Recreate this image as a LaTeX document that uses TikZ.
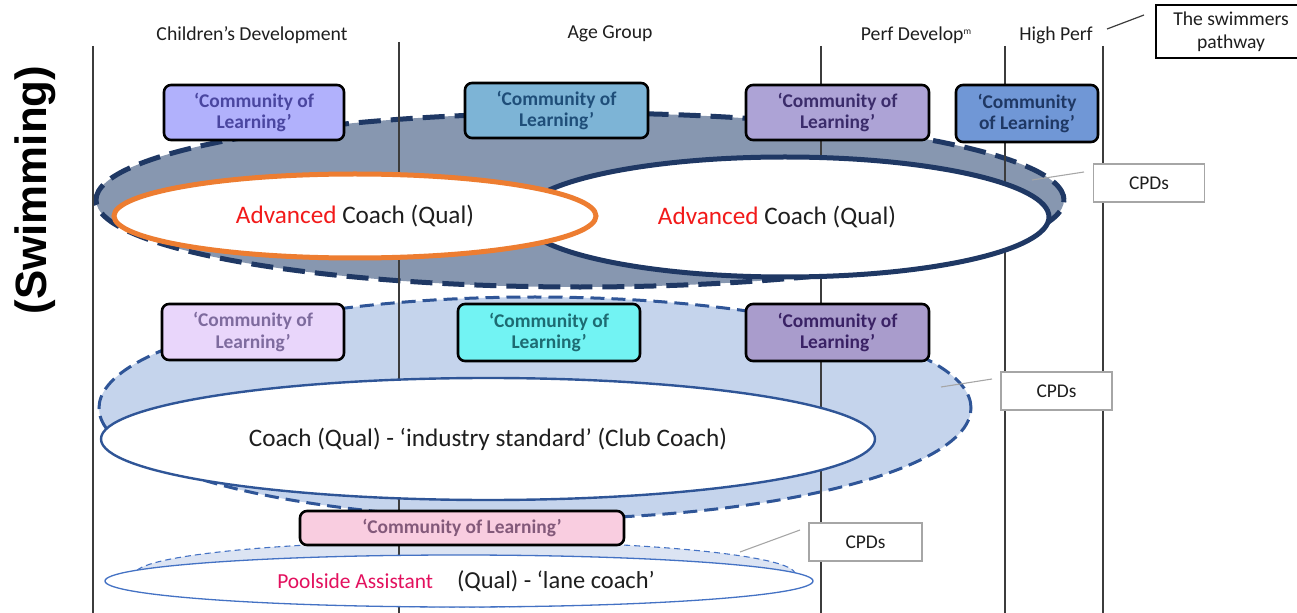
\documentclass[tikz,border=0pt]{standalone}
\usepackage{fontspec}
\setmainfont{Carlito}
\newfontfamily\swimfont{Liberation Sans}
\usetikzlibrary{shapes.geometric}

% palette
\definecolor{navy}{HTML}{1F3864}
\definecolor{slatefill}{HTML}{8797B0}
\definecolor{orangering}{HTML}{ED7D31}
\definecolor{midblue}{HTML}{2F5597}
\definecolor{paleblue}{HTML}{C5D4EC}
\definecolor{paleblueii}{HTML}{DCE4F3}
\definecolor{ringblue}{HTML}{4472C4}
\definecolor{inkdark}{HTML}{1E1E1E}
\definecolor{divgray}{HTML}{3C3C3C}
\definecolor{cpdgray}{HTML}{A6A6A6}
\definecolor{poolred}{HTML}{E3105E}
\definecolor{advred}{HTML}{F21A1A}
% community box fills and inks
\definecolor{cAfill}{HTML}{B1B1FC}\definecolor{cAtext}{HTML}{4A46A0}
\definecolor{cBfill}{HTML}{7DB4D6}\definecolor{cBtext}{HTML}{1F4E79}
\definecolor{cCfill}{HTML}{ADA3D6}\definecolor{cCtext}{HTML}{3B2C6B}
\definecolor{cDfill}{HTML}{7097D6}\definecolor{cDtext}{HTML}{1F3864}
\definecolor{cEfill}{HTML}{E9D6FB}\definecolor{cEtext}{HTML}{7E6B9E}
\definecolor{cFfill}{HTML}{72F3F3}\definecolor{cFtext}{HTML}{1D6B72}
\definecolor{cGfill}{HTML}{A99CCC}\definecolor{cGtext}{HTML}{3A2265}
\definecolor{cHfill}{HTML}{F9CDE0}\definecolor{cHtext}{HTML}{83597A}

\begin{document}
\begin{tikzpicture}[x=1bp,y=-1bp,
  ring/.style={ellipse, inner sep=0pt, text=inkdark},
  colbox/.style={draw=black, line width=2.6bp, rounded corners=7bp, inner sep=0pt,
    align=center, font=\fontsize{19.5}{22}\selectfont\bfseries},
  cpd/.style={draw=cpdgray, line width=1.3bp, fill=white, minimum width=111bp,
    minimum height=38bp, inner sep=0pt, text=inkdark, font=\fontsize{19.5}{22}\selectfont},
  hdr/.style={inner sep=0pt, text=inkdark, font=\fontsize{19.8}{23}\selectfont},
  divider/.style={draw=divgray, line width=1.5bp},
  leader/.style={draw=cpdgray, line width=1.1bp}
]
\useasboundingbox (0,0) rectangle (1297,613);

% background rings (filled, dashed)
\node[ring, fill=slatefill, draw=navy, line width=5bp, dash pattern=on 22bp off 10bp,
  minimum width=968bp, minimum height=174bp] (advring) at (580,200) {};
\node[ring, fill=paleblue, draw=midblue, line width=3bp, dash pattern=on 14bp off 7bp,
  minimum width=872bp, minimum height=222bp] (coachring) at (535,408) {};
\node[ring, fill=paleblueii, draw=ringblue, line width=1.1bp, dash pattern=on 6bp off 4bp,
  minimum width=660bp, minimum height=66bp] (poolring) at (465,574) {};

% pathway dividers
\coordinate (d1t) at (93,46);   \coordinate (d1b) at (93,613);
\coordinate (d2t) at (399,42);  \coordinate (d2b) at (399,613);
\coordinate (d3t) at (821,46);  \coordinate (d3b) at (821,613);
\coordinate (d4t) at (1005,46); \coordinate (d4b) at (1005,613);
\coordinate (d5t) at (1103,46); \coordinate (d5b) at (1103,613);
\foreach \d in {1,...,5}{\draw[divider] (d\d t) -- (d\d b);}

% qualification rings
\node[ring, fill=white, draw=navy, line width=5bp,
  minimum width=528bp, minimum height=120bp,
  font=\fontsize{25.3}{29}\selectfont] (advB) at (785,217)
  {\hspace*{-16bp}\textcolor{advred}{Advanced} Coach (Qual)};
\node[ring, fill=white, draw=orangering, line width=5bp,
  minimum width=482bp, minimum height=84bp,
  font=\fontsize{25.3}{29}\selectfont] (advA) at (355,216)
  {\textcolor{advred}{Advanced} Coach (Qual)};
\node[ring, fill=white, draw=midblue, line width=2.4bp,
  minimum width=774bp, minimum height=122bp,
  font=\fontsize{25.3}{29}\selectfont] (coach) at (488,439)
  {Coach (Qual) - ‘industry standard’ (Club Coach)};
\node[ring, fill=white, draw=ringblue, line width=1.3bp,
  minimum width=708bp, minimum height=52bp] (pool) at (459,581)
  {\hspace*{14bp}{\fontsize{21.5}{26}\selectfont\textcolor{poolred}{Poolside Assistant}}\hspace{24bp}{\fontsize{24.5}{28}\selectfont(Qual) - ‘lane coach’}};

% community of learning boxes
\node[colbox, fill=cAfill, text=cAtext, minimum width=180bp, minimum height=55bp] (colA) at (254,112.5) {‘Community of\\Learning’};
\node[colbox, fill=cBfill, text=cBtext, minimum width=183bp, minimum height=55bp] (colB) at (556.5,110.5) {‘Community of\\Learning’};
\node[colbox, fill=cCfill, text=cCtext, minimum width=183bp, minimum height=55bp] (colC) at (837.5,112.5) {‘Community of\\Learning’};
\node[colbox, fill=cDfill, text=cDtext, minimum width=142bp, minimum height=57bp] (colD) at (1027,113.5) {‘Community\\of Learning’};
\node[colbox, fill=cEfill, text=cEtext, minimum width=182bp, minimum height=56bp] (colE) at (253,332) {‘Community of\\Learning’};
\node[colbox, fill=cFfill, text=cFtext, minimum width=182bp, minimum height=57bp] (colF) at (549,332.5) {‘Community of\\Learning’};
\node[colbox, fill=cGfill, text=cGtext, minimum width=183bp, minimum height=57bp] (colG) at (837.5,332.5) {‘Community of\\Learning’};
\node[colbox, fill=cHfill, text=cHtext, minimum width=324bp, minimum height=34bp] (colH) at (462,528) {‘Community of Learning’};

% CPD callouts
\node[cpd] (cpdA) at (1149,183) {CPDs};
\node[cpd] (cpdB) at (1056.5,391) {CPDs};
\node[cpd, minimum width=113bp] (cpdC) at (865.5,542) {CPDs};
\coordinate (lAa) at (1084,172); \coordinate (lAb) at (1032,180);
\coordinate (lBa) at (992,379);  \coordinate (lBb) at (941,387);
\coordinate (lCa) at (800,530);  \coordinate (lCb) at (740,552);
\draw[leader] (lAa) -- (lAb);
\draw[leader] (lBa) -- (lBb);
\draw[leader] (lCa) -- (lCb);

% column headings
\node[hdr] (hChild) at (252,35) {Children’s Development};
\node[hdr] (hAge) at (610,34) {Age Group};
\node[hdr] (hPerf) at (916,35) {Perf Develop\raisebox{5.5bp}{\fontsize{9.5}{9.5}\selectfont m}};
\node[hdr] (hHigh) at (1056,35) {High Perf};

% pathway label
\node[draw=black, line width=1.5bp, minimum width=150bp, minimum height=53bp,
  align=center, inner sep=0pt, text=inkdark, font=\fontsize{19.7}{23}\selectfont]
  (pathway) at (1231,31.5) {The swimmers\\pathway};
\coordinate (slashA) at (1107,29); \coordinate (slashB) at (1144,15);
\draw[draw=divgray, line width=1.2bp] (slashA) -- (slashB);

% side title
\node[rotate=90, inner sep=0pt, text=black, font=\swimfont\bfseries\fontsize{44}{50}\selectfont]
  (sport) at (35,190) {(Swimming)};
\end{tikzpicture}
\end{document}
